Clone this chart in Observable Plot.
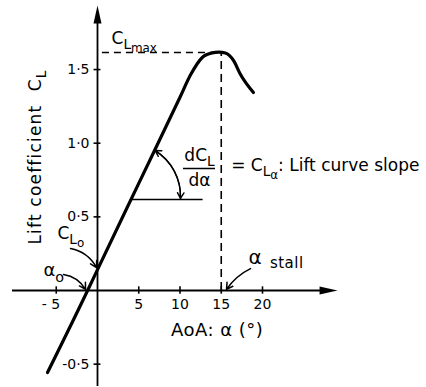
<!DOCTYPE html>
<html>
<head>
<meta charset="utf-8">
<script src="https://cdn.jsdelivr.net/npm/d3@7"></script>
<script src="https://cdn.jsdelivr.net/npm/@observablehq/plot@0.6"></script>
<style>
  html, body { margin: 0; padding: 0; background: #fff; }
  #chart svg { display: block; }
</style>
</head>
<body>
<div id="chart"></div>
<script>
// ---- data ----
const alpha = [-6.06, -1.2, 0, 5, 10, 11.3, 12.7, 13.9, 14.7, 15.5, 16.5, 17.3, 18.9];
const cl    = [-0.557, 0, 0.142, 0.727, 1.312, 1.466, 1.582, 1.613, 1.618, 1.612, 1.56, 1.47, 1.344];
const clMax = 1.616;
const alphaStall = 15;
const xTicks = [5, 10, 15, 20];
const xTickLabels = ["5", "10", "15", "20"];
const xNegTicks = [-5];
const xNegTickLabels = ["- 5"];
const yTicks = [-0.5, 0.5, 1.0, 1.5];
const yTickLabels = ["-0·5", "0·5", "1·0", "1·5"];
const slopeRefCL = 0.618;          // horizontal reference line level
const slopeRefAlpha = [4.07, 12.8];

// annotation labels ({} = subscript)
const labels = [
  {x: 1.7,   y: 1.711, text: "C{L{max}}", anchor: "start", size: 17, ls: 0},
  {x: -4.85, y: 0.387, text: "C{L{o}}",   anchor: "start", size: 17, ls: 0},
  {x: -6.55, y: 0.136, text: "α{o}",      anchor: "start", size: 18, ls: 0},
  {x: 18.3,  y: 0.222, text: "α",         anchor: "start", size: 20, ls: 0},
  {x: 20.9,  y: 0.185, text: "stall",     anchor: "start", size: 15, ls: 0.5},
  {x: 14.5,  y: -0.272, text: "AoA: α (°)", anchor: "middle", size: 18, ls: 0.5},
  {x: 12.36, y: 0.917, text: "dC{L}",     anchor: "middle", size: 17, ls: 0},
  {x: 12.36, y: 0.745, text: "dα",        anchor: "middle", size: 17, ls: 0},
  {x: 16.2,  y: 0.849, text: "= C{L{α}}: Lift curve slope", anchor: "start", size: 17, ls: 0}
];
const yLabel = [{x: -7.52, y: 0.906, text: "Lift coefficient  C{L}"}];

const arrowsCW  = [
  {x1: -3.27, y1: 0.285, x2: -0.12, y2: 0.156},
  {x1: -4.12, y1: 0.109, x2: -1.45, y2: 0.008}
];
const arrowsCCW = [
  {x1: 18.55, y1: 0.149, x2: 15.64, y2: 0.008}
];
const slopeArc = [{x1: 7.0, y1: 0.95, x2: 10.06, y2: 0.625}];
const slopeArcRev = slopeArc.map(d => ({x1: d.x2, y1: d.y2, x2: d.x1, y2: d.y1}));

const axisHeads = [{x: 29.1, y: 0, r: 90}, {x: 0, y: 1.935, r: 0}];

// filled, elongated arrowhead symbol with its tip at the origin
const headSymbol = {
  draw(ctx, size) {
    ctx.moveTo(0, 0);
    ctx.lineTo(-4, 18);
    ctx.lineTo(4, 18);
    ctx.closePath();
  }
};

const curve = alpha.map((a, i) => ({a, c: cl[i]}));

const font = "DejaVu Sans, Liberation Sans, sans-serif";

const plot = Plot.plot({
  width: 426,
  height: 387,
  margin: 0,
  x: {domain: [-11.758, 39.879], axis: null},
  y: {domain: [-0.6585, 1.9688], axis: null},
  style: {fontFamily: font, background: "white", color: "black"},
  marks: [
    // axes
    Plot.ruleY([0], {x1: -10.3, x2: 27.5, strokeWidth: 1.8}),
    Plot.ruleX([0], {y1: -0.652, y2: 1.82, strokeWidth: 1.8}),
    Plot.dot(axisHeads, {x: "x", y: "y", rotate: "r", symbol: headSymbol, fill: "black", stroke: null, r: 5}),
    // ticks
    Plot.ruleX(xNegTicks.concat(xTicks), {x: d => d, y1: -0.025, y2: 0.025, strokeWidth: 1.6}),
    Plot.ruleY(yTicks, {y: d => d, x1: -0.42, x2: 0.42, strokeWidth: 1.6}),
    Plot.text(xTicks, {x: d => d, y: 0, text: (d, i) => xTickLabels[i], dy: 14, fontSize: 14}),
    Plot.text(xNegTicks, {x: d => d, y: 0, text: (d, i) => xNegTickLabels[i], dy: 14, dx: 4, textAnchor: "end", fontSize: 14}),
    Plot.text(yTicks, {x: 0, y: d => d, text: (d, i) => yTickLabels[i], dx: -8, textAnchor: "end", fontSize: 14}),
    // dashed guides
    Plot.ruleY([clMax], {x1: 0.6, x2: alphaStall, strokeWidth: 1.6, strokeDasharray: "7,5"}),
    Plot.ruleX([alphaStall], {y1: 0, y2: clMax, strokeWidth: 1.6, strokeDasharray: "8,5"}),
    // lift curve
    Plot.line(curve, {x: "a", y: "c", curve: "monotone-x", strokeWidth: 3.2, strokeLinecap: "round"}),
    // slope construction
    Plot.ruleY([slopeRefCL], {x1: slopeRefAlpha[0], x2: slopeRefAlpha[1], strokeWidth: 1.4}),
    Plot.arrow(slopeArc, {x1: "x1", y1: "y1", x2: "x2", y2: "y2", bend: 30, headLength: 7, strokeWidth: 1.4}),
    Plot.arrow(slopeArcRev, {x1: "x1", y1: "y1", x2: "x2", y2: "y2", bend: -30, headLength: 7, strokeWidth: 1.4}),
    Plot.ruleY([0.828], {x1: 10.42, x2: 14.3, strokeWidth: 1.4}),
    // annotation arrows
    Plot.arrow(arrowsCW, {x1: "x1", y1: "y1", x2: "x2", y2: "y2", bend: 25, headLength: 7, strokeWidth: 1.5}),
    Plot.arrow(arrowsCCW, {x1: "x1", y1: "y1", x2: "x2", y2: "y2", bend: -15, headLength: 7, strokeWidth: 1.5}),
    // labels
    ...labels.map(l => Plot.text([l], {x: "x", y: "y", text: "text", textAnchor: l.anchor, fontSize: l.size,
      render: (index, scales, values, dims, ctx, next) => {
        const g = next(index, scales, values, dims, ctx);
        if (l.ls) g.setAttribute("letter-spacing", l.ls);
        return g;
      }})),
    Plot.text(yLabel, {x: "x", y: "y", text: "text", rotate: -90, fontSize: 17,
      render: (index, scales, values, dims, ctx, next) => {
        const g = next(index, scales, values, dims, ctx);
        g.setAttribute("letter-spacing", 1.2);
        return g;
      }})
  ]
});

document.getElementById("chart").appendChild(plot);

// turn {…} markup into subscript tspans
d3.select(plot).selectAll("text").each(function () {
  const s = this.textContent;
  if (!s.includes("{")) return;
  const base = parseFloat(getComputedStyle(this).fontSize) || 16;
  const parts = [];
  let level = 0, buf = "";
  for (const ch of s) {
    if (ch === "{" || ch === "}") {
      if (buf) parts.push([buf, level]);
      buf = "";
      level += ch === "{" ? 1 : -1;
    } else buf += ch;
  }
  if (buf) parts.push([buf, level]);
  this.textContent = "";
  let offset = 0;
  const sizeFor = lv => base * [1, 0.8, 0.7][lv];
  const shiftFor = lv => base * [0, 0.3, 0.48][lv];
  for (const [txt, lv] of parts) {
    const target = shiftFor(lv);
    d3.select(this).append("tspan")
      .attr("font-size", sizeFor(lv))
      .attr("dy", (target - offset).toFixed(2))
      .text(txt);
    offset = target;
  }
});
</script>
</body>
</html>
